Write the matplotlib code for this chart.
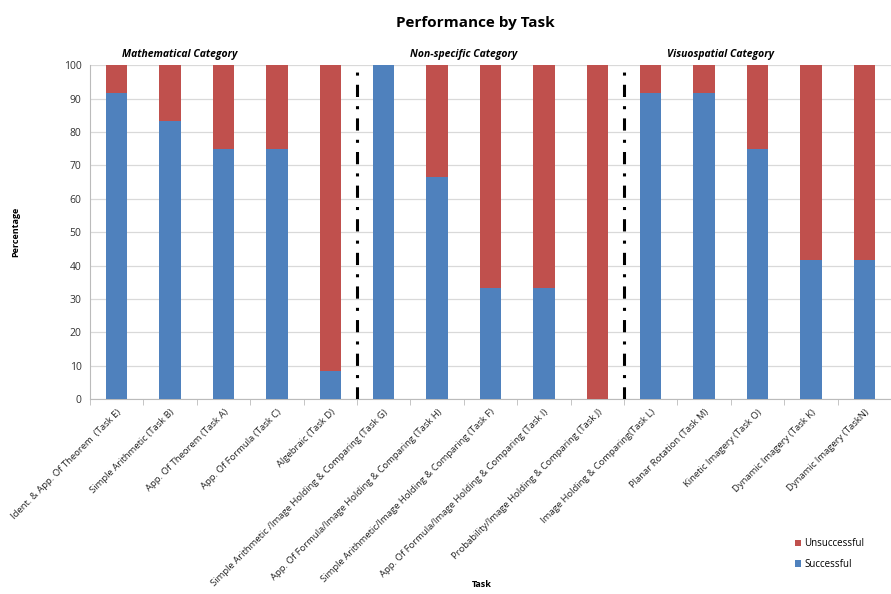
import matplotlib
matplotlib.use("Agg")
import matplotlib.pyplot as plt
import numpy as np

plt.rcParams['font.family'] = ['Open Sans', 'DejaVu Sans']

tasks = [
    "Ident. & App. Of Theorem  (Task E)",
    "Simple Arithmetic (Task B)",
    "App. Of Theorem (Task A)",
    "App. Of Formula (Task C)",
    "Algebraic (Task D)",
    "Simple Arithmetic /Image Holding & Comparing (Task G)",
    "App. Of Formula/Image Holding & Comparing (Task H)",
    "Simple Arithmetic/Image Holding & Comparing (Task F)",
    "App. Of Formula/Image Holding & Comparing (Task I)",
    "Probability/Image Holding & Comparing (Task J)",
    "Image Holding & Comparing(Task L)",
    "Planar Rotation (Task M)",
    "Kinetic Imagery (Task O)",
    "Dynamic Imagery (Task K)",
    "Dynamic Imagery (TaskN)",
]
successful = [91.7, 83.3, 75.0, 75.0, 8.3, 100.0, 66.7, 33.3, 33.3, 0.0,
              91.7, 91.7, 75.0, 41.7, 41.7]
unsuccessful = [8.3, 16.7, 25.0, 25.0, 91.7, 0.0, 33.3, 66.7, 66.7, 100.0,
                8.3, 8.3, 25.0, 58.3, 58.3]
categories = ["Mathematical Category", "Non-specific Category", "Visuospatial Category"]
category_x = [1.18, 6.5, 11.3]
dividers = [4.5, 9.5]

blue = "#4F81BD"
red = "#C0504D"

fig = plt.figure(figsize=(8.91, 5.94), dpi=100)
ax = fig.add_axes([0.101, 0.328, 0.899, 0.562])

x = np.arange(len(tasks))
ax.bar(x, successful, width=0.4, color=blue, label="Successful", zorder=3)
ax.bar(x, unsuccessful, width=0.4, bottom=successful, color=red,
       label="Unsuccessful", zorder=3)

for d in dividers:
    ax.plot([d, d], [0, 100], color="black", lw=2.2,
            linestyle=(0, (4, 3, 1, 3)), zorder=4)

for name, cx in zip(categories, category_x):
    ax.text(cx, 101.5, name, ha="center", va="bottom", fontsize=7.5,
            fontweight="bold", fontstyle="italic")

ax.set_xlim(-0.5, len(tasks) - 0.5)
ax.set_ylim(0, 100)
ax.set_yticks(np.arange(0, 101, 10))
ax.yaxis.grid(True, color="#D9D9D9", lw=0.9, zorder=0)
ax.tick_params(axis="y", length=0, labelsize=7.5, pad=6, colors="#333333")
ax.set_xticks(x)
ax.set_xticklabels(tasks, rotation=45, ha="right", rotation_mode="anchor",
                   fontsize=6.8, color="#222222")
ax.set_xticks(np.arange(-0.5, len(tasks), 1), minor=True)
ax.tick_params(axis="x", which="major", length=0, pad=6)
ax.tick_params(axis="x", which="minor", length=4, color="#BBBBBB")
for s in ["top", "right"]:
    ax.spines[s].set_visible(False)
ax.spines["left"].set_color("#BBBBBB")
ax.spines["bottom"].set_color("#BBBBBB")

fig.text(0.533, 0.962, "Performance by Task", ha="center", va="center",
         fontsize=11, fontweight="bold")
fig.text(0.018, 0.61, "Percentage", rotation=90, ha="center", va="center",
         fontsize=6.5, fontweight="bold")
fig.text(0.541, 0.008, "Task", ha="center", va="bottom", fontsize=6.5,
         fontweight="bold")

handles, labels = ax.get_legend_handles_labels()
fig.legend(handles[::-1], labels[::-1], loc="center left",
           bbox_to_anchor=(0.882, 0.067), frameon=False, fontsize=7,
           handlelength=0.7, handleheight=0.7, handletextpad=0.3,
           labelspacing=1.0)

fig.savefig("out.png", dpi=100)
